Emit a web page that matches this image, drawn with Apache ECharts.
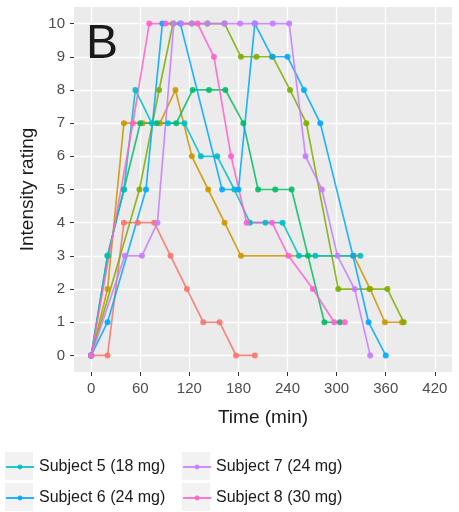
<!DOCTYPE html>
<html>
<head>
<meta charset="utf-8">
<script src="https://cdn.jsdelivr.net/npm/echarts@6/dist/echarts.min.js"></script>
<style>
  html, body { margin: 0; padding: 0; background: #fff; }
  #chart { width: 459px; height: 512px; }
</style>
</head>
<body>
<div id="chart"></div>
<script>
// tick labels
var xTicks = [0, 60, 120, 180, 240, 300, 360, 420];
var yTicks = [0, 1, 2, 3, 4, 5, 6, 7, 8, 9, 10];

// subjects, colours (ggplot hue palette, 8 levels)
var names = ['Subject 1', 'Subject 2', 'Subject 3', 'Subject 4',
  'Subject 5 (18 mg)', 'Subject 6 (24 mg)', 'Subject 7 (24 mg)', 'Subject 8 (30 mg)'];
var colors = ['#F8766D', '#CD9600', '#7CAE00', '#00BE67', '#00BFC4', '#00A9FF', '#C77CFF', '#FF61CC'];

// time (min) / intensity rating per subject
var t1 = [0, 20, 40, 57, 77, 97, 117, 137, 157, 177, 200];
var v1 = [0, 0, 4, 4, 4, 3, 2, 1, 1, 0, 0];
var t2 = [0, 20, 40, 63, 84, 103, 123, 143, 163, 183, 321, 341, 359, 380];
var v2 = [0, 2, 7, 7, 7, 8, 6, 5, 4, 3, 3, 2, 1, 1];
var t3 = [0, 59, 83, 100, 123, 142, 163, 183, 202, 222, 243, 263, 302, 340, 362, 382];
var v3 = [0, 5, 8, 10, 10, 10, 10, 9, 9, 9, 8, 7, 2, 2, 2, 1];
var t4 = [0, 20, 40, 60, 80, 104, 124, 144, 164, 186, 204, 225, 245, 265, 285, 304];
var v4 = [0, 3, 5, 7, 7, 7, 8, 8, 8, 7, 5, 5, 5, 3, 1, 1];
var t5 = [0, 20, 40, 54, 74, 94, 114, 134, 154, 175, 194, 213, 234, 254, 274, 329];
var v5 = [0, 3, 5, 8, 7, 7, 7, 6, 6, 5, 4, 4, 4, 3, 3, 3];
var t6 = [0, 20, 67, 87, 109, 160, 180, 200, 221, 240, 260, 280, 320, 339, 360];
var v6 = [0, 1, 5, 10, 10, 5, 5, 10, 9, 9, 8, 7, 3, 1, 0];
var t7 = [0, 41, 62, 81, 101, 110, 123, 142, 163, 182, 200, 222, 242, 262, 282, 301, 322, 341];
var v7 = [0, 3, 3, 4, 10, 10, 10, 10, 10, 10, 10, 10, 10, 6, 5, 3, 2, 0];
var t8 = [0, 51, 71, 91, 130, 150, 171, 190, 221, 241, 271, 297, 310];
var v8 = [0, 7, 10, 10, 10, 9, 6, 4, 4, 3, 2, 1, 1];

var times = [t1, t2, t3, t4, t5, t6, t7, t8];
var values = [v1, v2, v3, v4, v5, v6, v7, v8];

var font = 'Liberation Sans, Arial, Helvetica, sans-serif';

var series = names.map(function (name, i) {
  return {
    name: name,
    type: 'line',
    data: times[i].map(function (t, j) { return [t, values[i][j]]; }),
    symbol: 'circle',
    symbolSize: 6,
    lineStyle: { width: 1.7, opacity: 0.85 },
    itemStyle: { color: colors[i], opacity: 0.9 },
    color: colors[i],
    emphasis: { disabled: true },
    animation: false
  };
});

var legendCommon = {
  orient: 'vertical',
  top: 459,
  padding: 0,
  itemWidth: 28,
  itemHeight: 6,
  itemGap: 15,
  textStyle: { fontFamily: font, fontSize: 16, color: '#1a1a1a' }
};

var chart = echarts.init(document.getElementById('chart'));
chart.setOption({
  backgroundColor: '#fff',
  animation: false,
  grid: { left: 74, right: 7, top: 7, bottom: 140, show: true, backgroundColor: '#EBEBEB', borderWidth: 0 },
  xAxis: {
    type: 'value',
    min: -21,
    max: 441,
    name: 'Time (min)',
    nameLocation: 'middle',
    nameGap: 36,
    nameTextStyle: { fontFamily: font, fontSize: 19, color: '#1a1a1a' },
    axisLine: { show: false, onZero: false },
    axisTick: { show: true, length: 4, lineStyle: { color: '#333' }, customValues: xTicks },
    axisLabel: { fontFamily: font, fontSize: 15, color: '#4D4D4D', margin: 9, customValues: xTicks },
    splitLine: { show: true, lineStyle: { color: '#fff', width: 1.3 } }
  },
  yAxis: {
    type: 'value',
    min: -0.5,
    max: 10.5,
    name: 'Intensity rating',
    nameLocation: 'middle',
    nameGap: 37,
    nameTextStyle: { fontFamily: font, fontSize: 19, color: '#1a1a1a' },
    axisLine: { show: false, onZero: false },
    axisTick: { show: true, length: 4, lineStyle: { color: '#333' }, customValues: yTicks },
    axisLabel: { fontFamily: font, fontSize: 15, color: '#4D4D4D', margin: 9, customValues: yTicks },
    splitLine: { show: true, lineStyle: { color: '#fff', width: 1.3 } }
  },
  legend: [
    Object.assign({ left: 5, data: [names[4], names[5]] }, legendCommon),
    Object.assign({ left: 182, data: [names[6], names[7]] }, legendCommon)
  ],
  graphic: [
    { type: 'rect', left: 5, top: 452, shape: { width: 28, height: 28 }, style: { fill: '#F2F2F2' }, z: -1 },
    { type: 'rect', left: 5, top: 483, shape: { width: 28, height: 28 }, style: { fill: '#F2F2F2' }, z: -1 },
    { type: 'rect', left: 182, top: 452, shape: { width: 28, height: 28 }, style: { fill: '#F2F2F2' }, z: -1 },
    { type: 'rect', left: 182, top: 483, shape: { width: 28, height: 28 }, style: { fill: '#F2F2F2' }, z: -1 },
    { type: 'text', left: 86, top: 21, style: { text: 'B', fontFamily: font, fontSize: 48, fill: '#1a1a1a' }, z: 10 }
  ],
  series: series
});
</script>
</body>
</html>
